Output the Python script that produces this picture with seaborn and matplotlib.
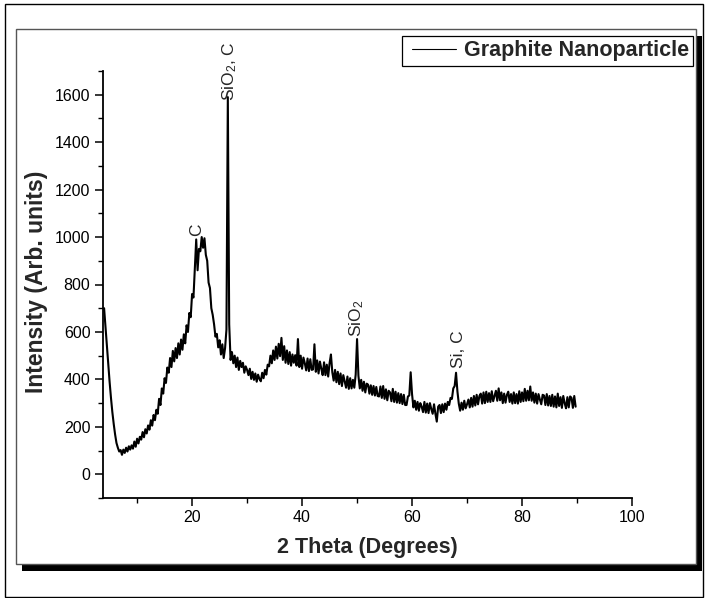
import numpy as np
import pandas as pd
import matplotlib
matplotlib.use("Agg")
import matplotlib.pyplot as plt
from matplotlib.patches import Rectangle
from matplotlib.lines import Line2D
from matplotlib.legend_handler import HandlerLine2D
from matplotlib.ticker import MultipleLocator
import seaborn as sns

# ---- data -------------------------------------------------------------
two_theta_start = 4.0
two_theta_step = 0.25
intensity = [
    700, 625, 545, 465, 390, 322, 262, 212, 168, 132, 112, 96, 102, 82, 104, 90, 112, 96, 118, 104,
    122, 108, 138, 116, 150, 130, 158, 146, 178, 156, 190, 172, 206, 188, 228, 205, 250, 228, 272, 255,
    318, 292, 362, 340, 405, 385, 450, 428, 490, 452, 520, 476, 532, 490, 552, 505, 568, 525, 590, 552,
    628, 600, 680, 662, 760, 745, 870, 990, 860, 950, 940, 1000, 955, 995, 925, 900, 808, 785, 700, 672,
    632, 580, 592, 535, 565, 505, 548, 490, 532, 610, 1590, 632, 482, 515, 468, 500, 452, 492, 440, 478,
    452, 470, 428, 455, 440, 418, 445, 402, 432, 398, 425, 390, 420, 402, 392, 428, 405, 440, 420, 462,
    455, 500, 468, 522, 482, 538, 488, 550, 498, 575, 482, 540, 470, 522, 465, 515, 458, 505, 470, 502,
    458, 570, 452, 500, 445, 492, 468, 438, 488, 435, 485, 440, 442, 548, 432, 480, 425, 475, 445, 418,
    472, 418, 462, 412, 468, 505, 430, 395, 440, 388, 432, 380, 425, 372, 418, 392, 365, 412, 360, 405,
    362, 398, 365, 420, 570, 415, 362, 398, 352, 390, 345, 382, 378, 340, 375, 335, 372, 332, 368, 330,
    328, 370, 322, 372, 318, 358, 312, 352, 345, 308, 360, 305, 348, 302, 342, 300, 338, 296, 335, 292,
    292, 328, 332, 430, 338, 282, 310, 272, 305, 268, 300, 285, 262, 305, 260, 298, 258, 300, 275, 255,
    295, 255, 222, 285, 292, 258, 295, 262, 298, 272, 305, 292, 322, 318, 362, 372, 428, 350, 298, 268,
    302, 272, 310, 278, 295, 315, 282, 322, 285, 330, 290, 335, 295, 330, 340, 298, 345, 300, 348, 305,
    342, 305, 350, 308, 330, 352, 310, 362, 312, 345, 300, 340, 302, 335, 348, 305, 338, 298, 345, 300,
    338, 298, 350, 305, 345, 308, 360, 310, 352, 312, 370, 310, 345, 302, 340, 298, 338, 315, 295, 335,
    332, 292, 338, 290, 330, 288, 335, 285, 328, 282, 340, 288, 325, 280, 330, 300, 278, 325, 282, 328,
    322, 280, 330, 285,
]
two_theta = two_theta_start + two_theta_step * np.arange(len(intensity))

peak_labels = ["C", "SiO$_2$, C", "SiO$_2$", "Si, C"]
peak_label_x = [20.75, 26.9, 50.0, 68.5]
peak_label_y = [1005, 1575, 580, 450]

x_ticks = [20, 40, 60, 80, 100]
y_ticks = [0, 200, 400, 600, 800, 1000, 1200, 1400, 1600]
series_name = "Graphite Nanoparticle"

df = pd.DataFrame({"two_theta": two_theta, "intensity": intensity})

# ---- style ------------------------------------------------------------
sns.set_style("ticks")
plt.rcParams["font.family"] = ["Liberation Sans", "DejaVu Sans"]
plt.rcParams["mathtext.fontset"] = "custom"
plt.rcParams["mathtext.rm"] = "Liberation Sans"
plt.rcParams["mathtext.it"] = "Liberation Sans:italic"
plt.rcParams["mathtext.bf"] = "Liberation Sans:bold"

W, H = 705, 598
fig = plt.figure(figsize=(W / 100, H / 100), dpi=100)
fig.patch.set_facecolor("white")


def fx(px):
    return px / W


def fy(py):
    return 1 - py / H


# decorative frames
fig.patches.append(Rectangle((fx(5), fy(596.5)), fx(703) - fx(5), fy(4) - fy(596.5),
                             transform=fig.transFigure, fill=False, edgecolor="black",
                             linewidth=1.0, zorder=-10))
fig.patches.append(Rectangle((fx(22), fy(571)), fx(702) - fx(22), fy(36) - fy(571),
                             transform=fig.transFigure, facecolor="black", edgecolor="none",
                             zorder=-9))
fig.patches.append(Rectangle((fx(16), fy(564)), fx(696) - fx(16), fy(29) - fy(564),
                             transform=fig.transFigure, facecolor="white", edgecolor="#555555",
                             linewidth=1.0, zorder=-8))

ax = fig.add_axes([fx(103), fy(498), fx(632) - fx(103), fy(71) - fy(498)])
ax.patch.set_alpha(0)

sns.lineplot(data=df, x="two_theta", y="intensity", color="black", linewidth=1.5,
             label=series_name, ax=ax, estimator=None, sort=False)

ax.set_xlim(3.8, 100)
ax.set_ylim(-100, 1700)
ax.set_xticks(x_ticks)
ax.set_yticks(y_ticks)
ax.xaxis.set_minor_locator(MultipleLocator(10))
ax.yaxis.set_minor_locator(MultipleLocator(100))
ax.tick_params(axis="both", which="major", direction="out", length=6, width=1.1,
               labelsize=11.5, pad=3, color="black", labelcolor="black")
ax.tick_params(axis="both", which="minor", direction="out", length=3.5, width=1.0,
               color="black")
for s in ["top", "right"]:
    ax.spines[s].set_visible(False)
for s in ["left", "bottom"]:
    ax.spines[s].set_linewidth(1.3)
    ax.spines[s].set_color("black")

ax.set_xlabel("2 Theta (Degrees)", fontsize=15.5, fontweight="bold")
ax.set_ylabel("Intensity (Arb. units)", fontsize=16.5, fontweight="bold")
ax.xaxis.label.set_va("center")
ax.yaxis.label.set_va("center")
ax.xaxis.set_label_coords(0.5, (498 - 548) / 427)
ax.yaxis.set_label_coords((37 - 103) / 529, (498 - 281.5) / 427)

for lab, xv, yv in zip(peak_labels, peak_label_x, peak_label_y):
    ax.text(xv, yv, lab, rotation=90, ha="center", va="bottom", fontsize=12.5)

leg = ax.legend(loc="upper right", bbox_to_anchor=(fx(693), fy(36)),
                bbox_transform=fig.transFigure, borderaxespad=0, frameon=True,
                fancybox=False, framealpha=1, edgecolor="black",
                handlelength=2.3, handletextpad=0.35, borderpad=0.2,
                handler_map={Line2D: HandlerLine2D(xpad=0.27)},
                prop={"size": 15.5, "weight": "bold"})
leg.get_frame().set_linewidth(0.9)
for h in leg.get_lines():
    h.set_linewidth(0.8)

fig.savefig("out.png", dpi=100)
